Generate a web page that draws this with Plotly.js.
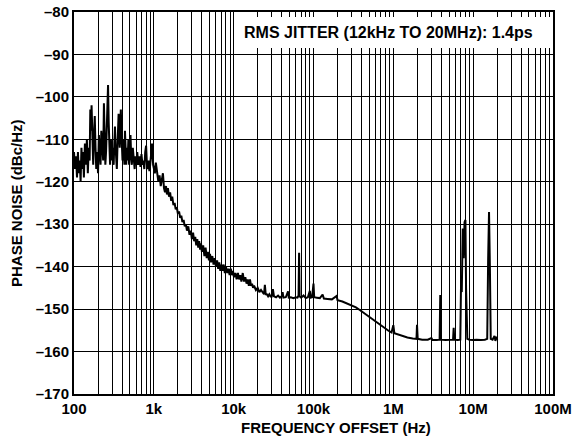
<!DOCTYPE html>
<html>
<head>
<meta charset="utf-8">
<script src="https://cdn.plot.ly/plotly-3.0.1.min.js"></script>
<style>html,body{margin:0;padding:0;background:#fff;}#chart{width:572px;height:442px;}</style>
</head>
<body>
<div id="chart"></div>
<script>
// Frequency offset (Hz)
const freqHz = [
  100,103,106,109,112,115,118,121,124,127,130,133,137,141,145,149,153,157,160,163,
  166,170,174,178,182,186,190,195,200,205,210,215,220,226,232,237,242,247,252,257,
  262,267,272,277,283,290,296,302,308,314,320,326,332,338,344,350,356,362,368,374,
  380,386,392,398,405,412,420,428,435,443,451,460,470,480,490,500,510,520,530,545,
  560,575,590,605,620,640,660,680,700,720,740,760,780,800,820,840,860,880,900,920,
  950,980,
  1000,1030,1060,1100,1140,1180,1220,1260,1300,1340,1380,1420,1460,1500,1550,1600,1650,1700,1760,1820,
  1880,1940,2000,2070,2140,2210,2280,2360,2440,2520,2600,2700,2800,2900,3000,3100,3200,3300,3400,3500,
  3600,3700,3800,3900,4000,4150,4300,4450,4600,4750,4900,5050,5200,5400,5600,5800,6000,6200,6400,6600,
  6800,7000,7250,7500,7750,8000,8300,8600,8900,9200,9500,9800,10100,10500,10900,11300,11700,12100,12500,13000,
  13500,14000,14500,15000,15500,16000,16500,17000,17500,18000,19000,20000,21000,22000,23000,24000,24600,25200,26000,27000,
  28000,29000,30000,31000,32000,34000,36000,38000,40000,41000,42000,45000,48000,49000,52000,56000,60000,63000,65000,66000,
  67000,70000,75000,80000,85000,90000,92000,96000,100000,102000,110000,120000,130000,135000,150000,170000,195000,200000,230000,260000,
  300000,340000,380000,420000,470000,520000,580000,640000,710000,790000,870000,950000,1000000,1030000,1150000,1300000,1500000,1750000,1950000,1980000,
  2020000,2300000,2700000,3000000,3100000,3500000,3800000,3870000,3940000,4500000,5000000,5600000,5700000,5800000,6400000,6900000,7050000,7200000,7400000,7600000,
  7800000,8000000,8150000,8300000,8450000,9000000,10000000,11000000,12500000,14000000,15000000,15400000,15800000,16200000,16600000,17500000,18500000,19000000,19500000,20000000
];
// Phase noise (dBc/Hz)
const phaseNoise = [
  -113,-117,-114,-119,-113,-118,-115,-120,-112,-117,-113,-119,-111,-116,-110,-118,-112,-115,-103,-108,
  -102,-112,-116,-109,-104.5,-112,-117,-113,-118,-109,-114,-116,-108,-112,-115,-101.5,-110,-116,-113,-107,
  -100,-97.2,-106,-114,-116,-110,-115,-112,-114,-116,-111,-107,-112,-115,-117,-112,-108,-104,-109,-112,
  -107,-103,-108,-113,-115,-110,-115,-116,-108,-113,-116,-112,-115,-110,-116,-113,-109,-114,-116,-112,
  -115.5,-117,-114,-116,-113,-116,-114,-116.5,-113.5,-116,-115,-117,-113,-111.5,-116,-117,-115,-117.5,-116,-113,
  -111,-116,
  -117,-118,-115.5,-118.5,-120,-118.5,-121,-119.5,-118,-121.5,-122.5,-121,-123,-121.5,-123.5,-122.5,-124.5,-123.5,-125.5,-125,
  -126.5,-126,-127.5,-127,-128.5,-128,-129.5,-129,-130.5,-130,-131.5,-130.5,-132.5,-131.5,-133.5,-132,-134,-133,-135,-133.5,
  -135.5,-134,-136,-134.5,-136.5,-135,-137.5,-135.5,-138,-136.5,-138.5,-137,-139,-137.5,-139.5,-138,-140,-138.5,-140.5,-139,
  -141,-139.5,-141,-139.5,-141.5,-140,-141.5,-140.5,-142,-140.5,-142,-141,-142.5,-141.5,-143,-141.5,-143,-142,-143.5,-141.5,
  -143.5,-142.5,-144,-143,-144.5,-143,-144.5,-144,-145,-144.5,-145.5,-145,-146,-145.5,-146,-146.5,-144.3,-146.5,-146.5,-147,
  -146.5,-147,-147,-145.3,-147,-147.2,-146.8,-147.3,-147,-146,-147.3,-147.2,-145.8,-147.3,-147.2,-147.4,-147.2,-147.3,-146.8,-136.7,
  -147,-147.3,-146.8,-147.4,-147.2,-145.7,-147.3,-147.2,-144,-147.2,-147.3,-147.4,-146.6,-147.5,-147.6,-147.7,-146.9,-147.9,-148.2,-148.6,
  -149,-149.6,-150.2,-150.8,-151.5,-152.1,-152.8,-153.4,-154,-154.6,-155.1,-155.5,-153.8,-155.7,-156,-156.4,-156.7,-156.9,-157,-153.7,
  -157,-157.2,-157.2,-156.8,-157.3,-157.3,-157.2,-146.7,-157.2,-157.3,-157.2,-157.2,-154.4,-157.2,-157.3,-157.2,-143.8,-146,-131,-138,
  -129.5,-129,-145,-153.3,-157,-157.2,-157.3,-157.2,-157.3,-157.2,-157,-138.4,-127.1,-140,-157,-157.2,-156.3,-157.5,-156.5,-157.2
];
const xTickVals = [100, 1e3, 1e4, 1e5, 1e6, 1e7, 1e8];
const xTickText = ['100', '1k', '10k', '100k', '1M', '10M', '100M'];
const yTickVals = [-170, -160, -150, -140, -130, -120, -110, -100, -90, -80];
const yTickText = ['–170', '–160', '–150', '–140', '–130', '–120', '–110', '–100', '–90', '–80'];
const jitterNote = 'RMS JITTER (12kHz TO 20MHz): 1.4ps';
const xTitle = 'FREQUENCY OFFSET (Hz)';
const yTitle = 'PHASE NOISE (dBc/Hz)';

const minorVals = [];
for (let k = 2; k < 8; k++) for (let d = 2; d <= 9; d++) minorVals.push(d * Math.pow(10, k));

const FONT = 'Liberation Sans, Arial, Helvetica, sans-serif';
const f15 = {family: FONT, size: 15, color: '#000', weight: 700};

Plotly.newPlot('chart', [{
  x: freqHz, y: phaseNoise, type: 'scatter', mode: 'lines',
  line: {color: '#000', width: 2}, hoverinfo: 'skip'
}], {
  width: 572, height: 442,
  margin: {l: 74, r: 19, t: 12, b: 48},
  paper_bgcolor: '#fff', plot_bgcolor: '#fff',
  showlegend: false,
  font: f15,
  xaxis: {
    type: 'log', range: [2, 8],
    tickmode: 'array', tickvals: xTickVals, ticktext: xTickText,
    tickfont: f15, ticks: '',
    showgrid: true, gridcolor: '#000', gridwidth: 1,
    minor: {tickmode: 'array', tickvals: minorVals, showgrid: true, gridcolor: '#000', gridwidth: 1, ticks: ''},
    showline: true, linecolor: '#000', linewidth: 2, mirror: true,
    zeroline: false
  },
  yaxis: {
    range: [-170, -80],
    tickmode: 'array', tickvals: yTickVals, ticktext: yTickText,
    tickfont: f15, ticks: '',
    showgrid: true, gridcolor: '#000', gridwidth: 1,
    showline: true, linecolor: '#000', linewidth: 2, mirror: true,
    zeroline: false
  },
  shapes: [{
    type: 'rect', xref: 'paper', yref: 'paper', layer: 'above',
    x0: 0.336, x1: 0.994, y0: 0.906, y1: 0.987,
    fillcolor: '#fff', line: {width: 0}
  }],
  annotations: [{
    xref: 'paper', yref: 'paper', x: 0.962, y: 0.947,
    xanchor: 'right', yanchor: 'middle', showarrow: false,
    text: jitterNote,
    font: {family: FONT, size: 16, color: '#000', weight: 700}
  }, {
    xref: 'paper', yref: 'paper', x: 0.547, y: -0.089,
    xanchor: 'center', yanchor: 'middle', showarrow: false,
    text: xTitle, font: f15
  }, {
    xref: 'paper', yref: 'paper', x: -0.121, y: 0.5,
    xanchor: 'center', yanchor: 'middle', showarrow: false, textangle: -90,
    text: yTitle, font: f15
  }]
}, {staticPlot: true, displayModeBar: false});
</script>
</body>
</html>
